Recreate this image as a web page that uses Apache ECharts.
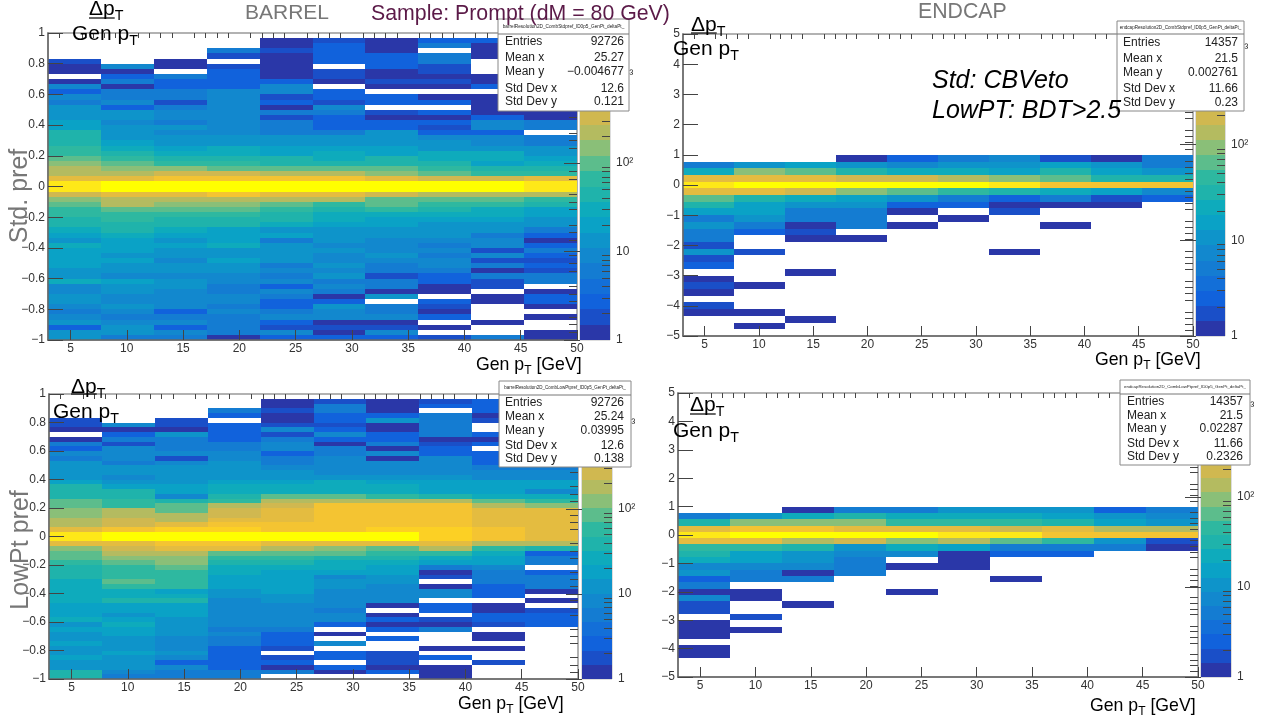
<!DOCTYPE html>
<html><head><meta charset="utf-8">
<script src="https://cdn.jsdelivr.net/npm/echarts@6/dist/echarts.min.js"></script>
<style>html,body{margin:0;padding:0;background:#fff}#c{width:1272px;height:720px}</style>
</head><body><div id="c"></div>
<script>
// Readings are estimated colour steps on each panel's log z scale (0 = empty bin).
// Each column lists y bins from the top of the axis downward.
const xMajorTicks = [5,10,15,20,25,30,35,40,45,50];
const xMinorTicks = [4,6,7,8,9,11,12,13,14,16,17,18,19,21,22,23,24,26,27,28,29,31,32,33,34,36,37,38,39,41,42,43,44,46,47,48,49];
const barrelYTicks = [-1,-0.8,-0.6,-0.4,-0.2,0,0.2,0.4,0.6,0.8,1];
const barrelYMinor = [-0.95,-0.9,-0.85,-0.75,-0.7,-0.65,-0.55,-0.5,-0.45,-0.35,-0.3,-0.25,-0.15,-0.1,-0.05,0.05,0.1,0.15,0.25,0.3,0.35,0.45,0.5,0.55,0.65,0.7,0.75,0.85,0.9,0.95];
const endcapYTicks = [-5,-4,-3,-2,-1,0,1,2,3,4,5];
const endcapYMinor = [-4.8,-4.6,-4.4,-4.2,-3.8,-3.6,-3.4,-3.2,-2.8,-2.6,-2.4,-2.2,-1.8,-1.6,-1.4,-1.2,-0.8,-0.6,-0.4,-0.2,0.2,0.4,0.6,0.8,1.2,1.4,1.6,1.8,2.2,2.4,2.6,2.8,3.2,3.4,3.6,3.8,4.2,4.4,4.6,4.8];
const zMajorTicks = [1,10,100,1000];
const zMinorTicks = [2,3,4,5,6,7,8,9,20,30,40,50,60,70,80,90,200,300,400,500,600,700,800,900,2000,3000];
const palette = ['#2a37a8','#1a4fc8','#1162dc','#136fd8','#147cd2','#1288ce','#0e94ca','#0aa2c6','#0eabbc','#1fb3ab','#2eb8a0','#5cbd8c','#8abf78','#b4bb60','#d0b850','#e4bc40','#f4c432','#fcd024','#fee818','#ffff00'];
// colour step -> contour of the colour bar
const readingToContour = [0,1,2,3,5,6,7,8,9,10,11,12,13,14,15,16,16,17,18,19,20];

const barrelStdLevels = [
 [0,0,0,0,0,2,1,1,0,1,5,3,5,4,6,6,6,7,7,9,9,9,10,10,11,12,13,13,15,19,19,14,12,11,10,10,9,9,8,7,6,8,7,7,7,7,6,6,8,5,5,6,6,5,4,5,6,3,6,6],
 [0,0,0,0,0,0,5,1,3,4,1,4,4,5,3,6,6,5,6,6,6,7,8,9,10,11,12,13,16,20,20,16,13,13,11,10,10,9,9,8,7,7,7,6,7,6,6,5,7,6,6,5,5,6,5,4,5,6,6,4],
 [0,0,0,0,0,1,1,0,4,3,3,4,4,2,4,5,5,4,6,5,6,6,7,8,9,10,12,14,17,20,20,16,13,12,11,10,9,9,8,7,6,7,6,6,5,6,6,5,6,6,5,5,5,5,3,4,5,3,5,4],
 [0,0,0,4,2,0,2,3,3,3,3,5,5,5,5,5,5,5,5,5,6,6,8,8,9,10,11,14,17,20,20,17,13,12,11,10,9,9,7,7,7,8,6,6,7,6,6,5,5,4,4,5,5,4,5,4,4,4,4,1],
 [0,1,1,2,1,1,1,1,1,3,5,5,2,3,1,4,2,4,4,4,6,6,7,7,9,9,11,13,17,20,20,16,13,11,10,9,9,8,6,7,4,6,6,6,6,4,5,4,5,3,5,4,3,3,4,5,3,2,5,3],
 [0,2,3,3,3,3,0,2,2,1,0,3,3,2,5,4,3,3,3,4,6,6,7,8,8,9,11,13,17,20,20,15,13,10,9,8,8,7,6,6,6,5,6,5,5,6,5,6,4,5,4,1,3,6,5,5,1,2,1,3],
 [0,1,1,1,3,3,3,1,1,2,1,0,3,3,0,2,1,3,3,6,6,6,7,7,9,9,11,12,16,20,20,14,11,11,10,8,7,7,6,6,5,5,5,6,5,4,4,2,4,4,1,6,0,4,4,5,1,2,5,3],
 [0,3,4,0,4,4,2,2,1,2,1,0,1,3,0,3,1,3,2,3,5,6,6,8,8,9,10,11,14,20,20,13,11,10,9,8,7,6,6,6,5,4,5,4,5,5,4,3,3,1,1,0,3,2,1,3,0,1,0,2],
 [0,3,1,1,1,0,0,0,1,1,3,0,1,1,1,1,3,5,5,3,5,5,6,8,8,7,9,10,14,20,20,13,11,10,8,8,7,6,6,4,5,5,2,5,2,4,1,4,2,2,0,1,1,0,0,0,1,0,0,4],
 [0,2,2,1,3,3,2,3,2,1,3,2,1,2,1,1,1,4,4,0,4,4,6,6,7,8,9,10,15,19,19,13,10,9,7,7,6,6,4,3,1,3,4,3,2,3,2,4,4,0,1,3,3,1,0,1,0,0,1,1]
];
const barrelLowPtLevels = [
 [0,0,0,0,0,2,2,1,0,1,4,3,5,4,6,6,6,6,7,9,9,9,11,11,12,12,13,13,16,19,19,15,12,11,11,10,9,9,9,8,8,8,8,8,7,7,7,8,6,7,6,6,7,6,6,7,6,6,9,9],
 [0,0,0,0,0,0,5,1,3,4,2,5,5,5,4,6,6,5,6,7,9,9,10,10,13,13,14,14,17,20,20,16,14,13,12,11,10,10,10,11,10,8,8,9,7,7,6,7,8,7,7,6,6,6,7,6,6,6,5,4],
 [0,0,0,0,0,2,2,1,6,4,4,4,5,2,5,6,6,6,6,7,7,5,9,11,11,13,13,16,18,20,20,17,15,13,12,12,11,10,10,10,10,7,8,9,7,7,7,6,6,6,6,5,5,5,6,5,3,5,4,4],
 [0,0,0,4,3,0,3,3,3,3,4,4,5,5,6,6,6,6,7,8,8,9,10,13,14,14,15,17,18,20,20,17,15,11,10,9,8,8,7,7,7,6,6,5,5,5,5,5,5,4,5,4,4,3,3,3,3,3,4,4],
 [0,1,1,2,1,1,2,5,2,4,5,5,3,4,4,5,6,6,7,8,8,11,13,14,16,16,16,17,17,20,20,16,13,11,10,9,8,7,7,7,7,7,6,6,5,5,5,5,5,4,3,3,3,2,0,2,3,1,4,0],
 [0,2,4,4,3,3,2,3,5,3,1,4,4,5,5,5,5,6,8,8,8,11,13,17,17,17,17,17,17,20,20,15,12,11,9,8,8,7,5,6,6,5,5,5,5,4,5,5,3,0,1,0,5,0,3,3,0,3,1,0],
 [0,1,1,1,3,6,1,1,3,3,4,1,5,1,5,5,5,6,7,8,8,10,13,17,17,17,17,17,18,20,20,15,11,10,9,8,7,7,6,6,5,5,5,5,1,0,1,3,1,3,0,3,0,0,2,2,2,1,3,0],
 [0,2,3,0,4,4,4,4,4,1,2,3,3,5,5,5,5,6,7,7,7,9,13,17,17,17,17,17,18,18,18,15,13,10,8,7,4,1,2,0,1,5,5,0,3,3,0,2,1,4,0,0,0,1,0,3,0,1,1,1],
 [0,3,3,3,1,2,0,0,3,1,3,0,3,3,3,4,5,5,7,7,7,8,11,13,15,16,15,16,17,17,17,13,10,8,7,7,5,4,4,4,3,3,3,0,1,1,3,3,2,0,1,1,0,1,0,0,2,0,0,0],
 [0,2,1,3,2,3,1,2,3,2,3,2,3,1,3,4,5,5,7,7,5,8,10,12,15,15,15,15,16,16,16,13,9,3,4,4,0,3,4,4,4,1,0,1,0,2,3,3,3]
];
// Endcap columns start at the first bin that can be filled (+1 on the y axis); trailing empty bins are left out.
const endcapStdLevels = [
 [0,4,8,15,19,15,11,9,7,4,6,4,4,2,6,2,3,0,1,2,1,0,2,1],
 [0,6,12,16,20,16,9,7,7,6,4,3,0,0,2,0,0,0,0,1,0,0,0,1,0,1],
 [0,7,11,15,20,14,8,6,4,4,1,2,1,0,0,0,0,1,0,0,0,0,0,0,1],
 [1,6,9,14,20,12,7,6,4,4,4,0,1],
 [3,5,8,14,20,11,6,3,1,0,1],
 [4,6,8,13,20,10,4,3,0,1],
 [5,6,7,12,19,9,3,1,2,0,0,0,0,0,1],
 [2,7,9,11,17,8,4,1,0,0,1],
 [1,6,7,9,17,7,2,1],
 [4,4,6,9,17,5,3]
];
const endcapLowPtLevels = [
 [0,4,9,15,19,15,10,9,8,5,6,3,4,1,5,2,2,0,1,1,1,0,1,1],
 [0,6,12,17,20,16,10,7,7,5,4,4,0,1,1,0,0,2,0,1],
 [1,8,12,17,20,13,9,6,6,5,1,4,0,0,0,1],
 [4,9,12,16,20,14,6,5,4,4,4],
 [4,8,10,15,20,12,8,5,0,1,0,0,0,1],
 [6,8,10,15,19,13,7,1,1,1],
 [6,8,10,14,19,11,4,3,0,0,0,1],
 [6,7,9,15,17,10,4,3],
 [3,6,7,13,17,6,4],
 [4,5,6,13,17,2,1]
];
const statLabels = ['Entries','Mean x','Mean y','Std Dev x','Std Dev y'];
const statBarrelStd = ['92726','25.27','\u22120.004677','12.6','0.121'];
const statEndcapStd = ['14357','21.5','0.002761','11.66','0.23'];
const statBarrelLowPt = ['92726','25.24','0.03995','12.6','0.138'];
const statEndcapLowPt = ['14357','21.5','0.02287','11.66','0.2326'];

const FONT = '"Liberation Sans", Arial, sans-serif';
const panels = [
 {levels:barrelStdLevels, yMin:-1,yMax:1,nY:60,first:0, yT:barrelYTicks,yM:barrelYMinor,zMax:2950,
  g:[48,33,529,307], c:[580,33,30,307], yLen:[15,8],
  stat:{box:[498,19,131,92],sep:34,rows:[42,58,72,89,102],l:505,r:624,name:'barrelResolution2D_CombStdpref_ID0p5_GenPt_deltaPt_',vals:statBarrelStd}},
 {levels:endcapStdLevels, yMin:-5,yMax:5,nY:45,first:18, yT:endcapYTicks,yM:endcapYMinor,zMax:1420,
  g:[683,34,510,302], c:[1196,34,29,302], yLen:[15,8],
  stat:{box:[1117,21,127,90],sep:34,rows:[43,59,73,89,103],l:1123,r:1238,name:'endcapResolution2D_CombStdpref_ID0p5_GenPt_deltaPt_',vals:statEndcapStd}},
 {levels:barrelLowPtLevels, yMin:-1,yMax:1,nY:60,first:0, yT:barrelYTicks,yM:barrelYMinor,zMax:2250,
  g:[49,394,529,285], c:[582,394,30,285], yLen:[15,8],
  stat:{box:[499,381,132,86],sep:395,rows:[403,417,431,446,459],l:505,r:624,name:'barrelResolution2D_CombLowPtpref_ID0p5_GenPt_deltaPt_',vals:statBarrelLowPt}},
 {levels:endcapLowPtLevels, yMin:-5,yMax:5,nY:45,first:18, yT:endcapYTicks,yM:endcapYMinor,zMax:1420,
  g:[678,393,520,284], c:[1201,393,30,284], yLen:[15,8],
  stat:{box:[1120,380,130,85],sep:394,rows:[402,416,429,444,457],l:1127,r:1243,name:'endcapResolution2D_CombLowPtpref_ID0p5_GenPt_deltaPt_',vals:statEndcapLowPt}}
];

const X_MIN=3, X_MAX=50;
const grid=[], xAxis=[], yAxis=[], series=[], graphic=[];
const tickColor='#444', lineStyle={color:'#666',width:1.5};
const renderCell=(params,api)=>{
  const a=api.coord([api.value(0),api.value(3)]), b=api.coord([api.value(1),api.value(2)]);
  const x=Math.round(a[0]), y=Math.round(a[1]);
  return {type:'rect',shape:{x,y,width:Math.round(b[0])-x,height:Math.round(b[1])-y},
          style:{fill:palette[api.value(4)-1]}};
};
const fmtY=v=>{const s=Math.abs(v)%1===0?String(Math.abs(v)):Math.abs(v).toFixed(1);return (v<0?'\u2212':'')+s;};
const fmtZ=v=>v===1?'1':v===10?'10':v===100?'10\u00B2':'10\u00B3';

panels.forEach(p=>{
  let gi=grid.length;
  grid.push({left:p.g[0],top:p.g[1],width:p.g[2],height:p.g[3],show:true,borderColor:'#999',borderWidth:1.5,backgroundColor:'#fff',containLabel:false});
  const xi=xAxis.length, yi=yAxis.length;
  xAxis.push({gridIndex:gi,type:'value',min:X_MIN,max:X_MAX,z:5,splitLine:{show:false},axisLine:{lineStyle,onZero:false},
    axisTick:{customValues:xMajorTicks,inside:true,length:10,lineStyle:{color:tickColor,width:1}},
    axisLabel:{customValues:xMajorTicks,margin:3,fontSize:12,color:'#333',fontFamily:FONT}});
  xAxis.push({gridIndex:gi,type:'value',min:X_MIN,max:X_MAX,z:5,splitLine:{show:false},axisLine:{show:false,onZero:false},
    axisTick:{customValues:xMinorTicks,inside:true,length:5,lineStyle:{color:tickColor,width:1}},axisLabel:{show:false}});
  yAxis.push({gridIndex:gi,type:'value',min:p.yMin,max:p.yMax,z:5,splitLine:{show:false},axisLine:{lineStyle,onZero:false},
    axisTick:{customValues:p.yT,inside:true,length:p.yLen[0],lineStyle:{color:tickColor,width:1}},
    axisLabel:{customValues:p.yT,margin:3,fontSize:12,color:'#333',fontFamily:FONT,formatter:fmtY}});
  yAxis.push({gridIndex:gi,type:'value',min:p.yMin,max:p.yMax,z:5,splitLine:{show:false},axisLine:{show:false,onZero:false},
    axisTick:{customValues:p.yM,inside:true,length:p.yLen[1],lineStyle:{color:tickColor,width:1}},axisLabel:{show:false}});
  const dx=(X_MAX-X_MIN)/p.levels.length, dy=(p.yMax-p.yMin)/p.nY, data=[];
  p.levels.forEach((col,i)=>col.forEach((lv,j)=>{
    if(!lv) return;
    const top=p.yMax-(j+p.first)*dy;
    data.push([X_MIN+i*dx,X_MIN+(i+1)*dx,top-dy,top,readingToContour[lv]]);
  }));
  series.push({type:'custom',xAxisIndex:xi,yAxisIndex:yi,silent:true,clip:true,renderItem:renderCell,data,
    encode:{x:[0,1],y:[2,3]},animation:false,progressive:0});
  gi=grid.length;
  grid.push({left:p.c[0],top:p.c[1],width:p.c[2],height:p.c[3],show:true,borderColor:'#bbb',borderWidth:1,containLabel:false});
  const cxi=xAxis.length, cyi=yAxis.length;
  xAxis.push({gridIndex:gi,type:'value',min:0,max:1,show:false});
  yAxis.push({gridIndex:gi,type:'log',logBase:10,min:1,max:p.zMax,position:'right',z:5,splitLine:{show:false},axisLine:{show:false},
    axisTick:{customValues:zMajorTicks.filter(v=>v<=p.zMax),inside:true,length:16,lineStyle:{color:tickColor,width:1}},
    axisLabel:{customValues:zMajorTicks.filter(v=>v<=p.zMax),margin:6,fontSize:12,color:'#333',fontFamily:FONT,formatter:fmtZ}});
  yAxis.push({gridIndex:gi,type:'log',logBase:10,min:1,max:p.zMax,position:'right',z:5,splitLine:{show:false},axisLine:{show:false},
    axisTick:{customValues:zMinorTicks.filter(v=>v<=p.zMax),inside:true,length:8,lineStyle:{color:tickColor,width:1}},axisLabel:{show:false}});
  const cdata=palette.map((_,k)=>[0,1,Math.pow(p.zMax,k/palette.length),Math.pow(p.zMax,(k+1)/palette.length),k+1]);
  series.push({type:'custom',xAxisIndex:cxi,yAxisIndex:cyi,silent:true,clip:true,renderItem:renderCell,data:cdata,
    encode:{x:[0,1],y:[2,3]},animation:false,progressive:0});
});

const mctx=document.createElement('canvas').getContext('2d');
const width=(t,size)=>{mctx.font=size+'px "Liberation Sans"';return mctx.measureText(t).width;};
const Z=50;
function text(t,x,y,size,opt){opt=opt||{};
  graphic.push({type:'text',z:opt.z||Z,x,y,rotation:opt.rot||0,silent:true,
    style:{text:t,fontSize:size,fontFamily:FONT,fontStyle:opt.italic?'italic':'normal',fill:opt.fill||'#000',align:opt.align||'left',verticalAlign:'middle'}});
}
function runs(parts,x,y,size,subSize,subDy){
  let cx=x;
  parts.forEach(([t,sub])=>{
    const s=sub?subSize:size;
    text(t,cx,y+(sub?subDy:0),s);
    cx+=width(t,s);
  });
  return cx;
}
function frac(xTop,yTop,xBot,yBot,size,ul){
  const end=xTop+width('\u0394p',size);
  runs([['\u0394p',0],['T',1]],xTop,yTop,size,size*0.68,7);
  graphic.push({type:'line',z:Z,silent:true,shape:{x1:xTop,y1:ul,x2:end,y2:ul},style:{stroke:'#000',lineWidth:1.2}});
  runs([['Gen p',0],['T',1]],xBot,yBot,size,size*0.68,7);
}
function statBox(s){
  const [x,y,w,h]=s.box;
  graphic.push({type:'rect',z:Z,silent:true,shape:{x,y,width:w,height:h},style:{fill:'#fff',stroke:'#888',lineWidth:1}});
  graphic.push({type:'line',z:Z+1,silent:true,shape:{x1:x,y1:s.sep,x2:x+w,y2:s.sep},style:{stroke:'#777',lineWidth:1}});
  text(s.name,x+w/2,(y+s.sep)/2,5*122/width(s.name,5),{align:'center',z:Z+1,fill:'#222'});
  s.rows.forEach((ry,i)=>{
    text(statLabels[i],s.l,ry,12,{z:Z+1,fill:'#222'});
    text(s.vals[i],s.r,ry,12,{z:Z+1,fill:'#222',align:'right'});
  });
}
panels.forEach(p=>statBox(p.stat));

text('BARREL',245,13,21,{fill:'#777'});
text('ENDCAP',918,12,21.3,{fill:'#777'});
text('Sample: Prompt (dM = 80 GeV)',371,14,21.3,{fill:'#5b1a48'});
text('Std: CBVeto',932,81,25,{italic:true});
text('LowPT: BDT>2.5',932,111,25,{italic:true});
text('Std. pref',20,196,25,{fill:'#777',rot:Math.PI/2,align:'center'});
text('LowPt pref',21,550,25,{fill:'#777',rot:Math.PI/2,align:'center'});

frac(89,9,72,34,21,18);
frac(691,25,673,49,21,33);
frac(71,387,53,412,21,394);
frac(690,405,673,431,21,414);

const xTitle=[['Gen p',0],['T',1],[' [GeV]',0]];
runs(xTitle,476,365,17.7,12,6);
runs(xTitle,1095,360,17.7,12,6);
runs(xTitle,458,704,17.7,12,6);
runs(xTitle,1090,706,17.7,12,6);

const chart=echarts.init(document.getElementById('c'),null,{renderer:'canvas'});
chart.setOption({animation:false,backgroundColor:'#fff',grid,xAxis,yAxis,series,graphic:{elements:graphic}});
</script></body></html>
